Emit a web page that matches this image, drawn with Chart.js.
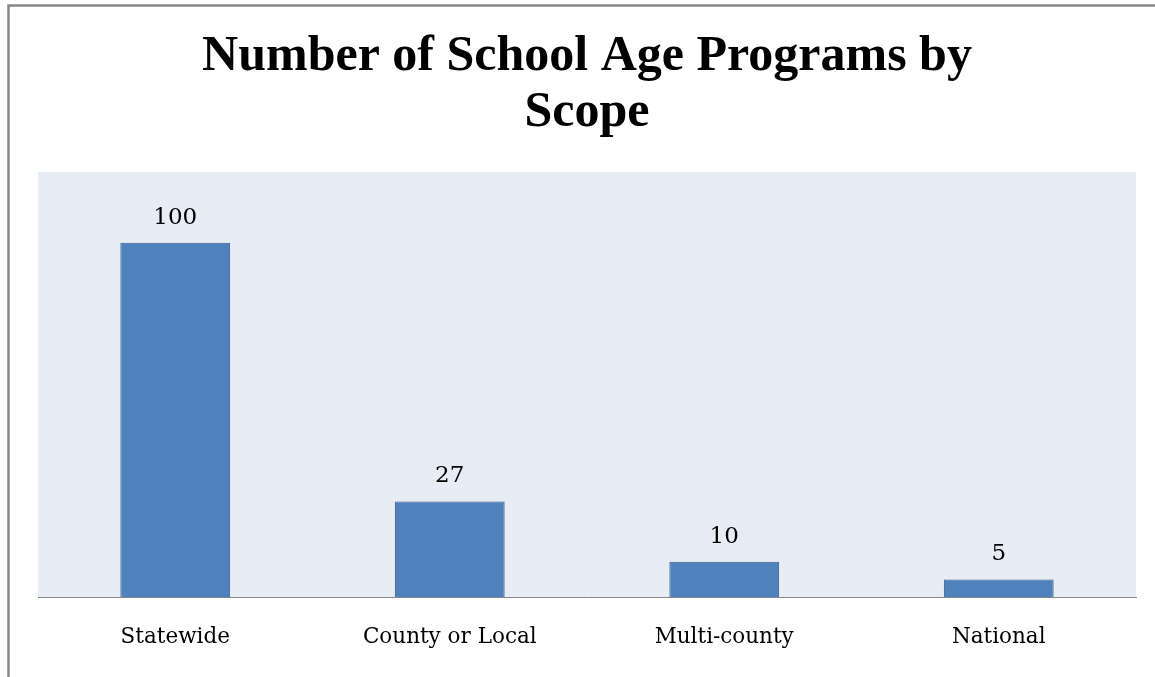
<!DOCTYPE html>
<html>
<head>
<meta charset="utf-8">
<script src="https://cdn.jsdelivr.net/npm/chart.js@4/dist/chart.umd.min.js"></script>
<style>
html,body{margin:0;padding:0;background:#fff;}
#wrap{width:1155px;height:677px;position:relative;}
</style>
</head>
<body>
<div id="wrap"><canvas id="c" width="1155" height="677"></canvas></div>
<script>
const categories = ["Statewide", "County or Local", "Multi-county", "National"];
const programCounts = [100, 27, 10, 5];
const titleLines = ["Number of School Age Programs by", "Scope"];

const bgPlugin = {
  id: 'bg',
  beforeDraw(chart) {
    const {ctx, chartArea: a} = chart;
    ctx.save();
    ctx.fillStyle = '#E8ECF4';
    ctx.fillRect(a.left, a.top, a.right - a.left, a.bottom - a.top);
    ctx.restore();
  },
  afterDraw(chart) {
    const ctx = chart.ctx;
    ctx.save();
    ctx.strokeStyle = '#888888';
    ctx.lineWidth = 2.5;
    ctx.beginPath();
    ctx.moveTo(8.5, 677);
    ctx.lineTo(8.5, 5.5);
    ctx.lineTo(1155, 5.5);
    ctx.stroke();
    ctx.restore();
  }
};

const labelPlugin = {
  id: 'vlabels',
  afterDatasetsDraw(chart) {
    const ctx = chart.ctx;
    const meta = chart.getDatasetMeta(0);
    ctx.save();
    ctx.font = '23px "DejaVu Serif", serif';
    ctx.fillStyle = '#000';
    ctx.textAlign = 'center';
    ctx.textBaseline = 'middle';
    meta.data.forEach((bar, i) => {
      ctx.fillText(String(chart.data.datasets[0].data[i]), bar.x, bar.y - 25);
    });
    ctx.restore();
  }
};

new Chart(document.getElementById('c'), {
  type: 'bar',
  data: {
    labels: categories,
    datasets: [{
      data: programCounts,
      backgroundColor: '#4F81BD',
      borderColor: '#385D8A',
      borderWidth: 1,
      categoryPercentage: 1.0,
      barPercentage: 0.4
    }]
  },
  options: {
    responsive: false,
    animation: false,
    layout: { padding: { left: 38, right: 19, top: 0, bottom: 0 } },
    plugins: {
      legend: { display: false },
      tooltip: { enabled: false },
      title: {
        display: true,
        text: titleLines,
        color: '#000',
        font: { family: '"Liberation Serif", serif', size: 50, weight: 'bold', lineHeight: 1.12 },
        padding: { top: 29.5, bottom: 30.5 }
      }
    },
    scales: {
      y: { display: false, min: 0, max: 120 },
      x: {
        grid: { display: false, drawTicks: false },
        border: { display: true, color: '#888888', width: 1 },
        ticks: { color: '#000', padding: 27, font: { family: '"DejaVu Serif", serif', size: 21.5 } }
      }
    }
  },
  plugins: [bgPlugin, labelPlugin]
});
</script>
</body>
</html>
